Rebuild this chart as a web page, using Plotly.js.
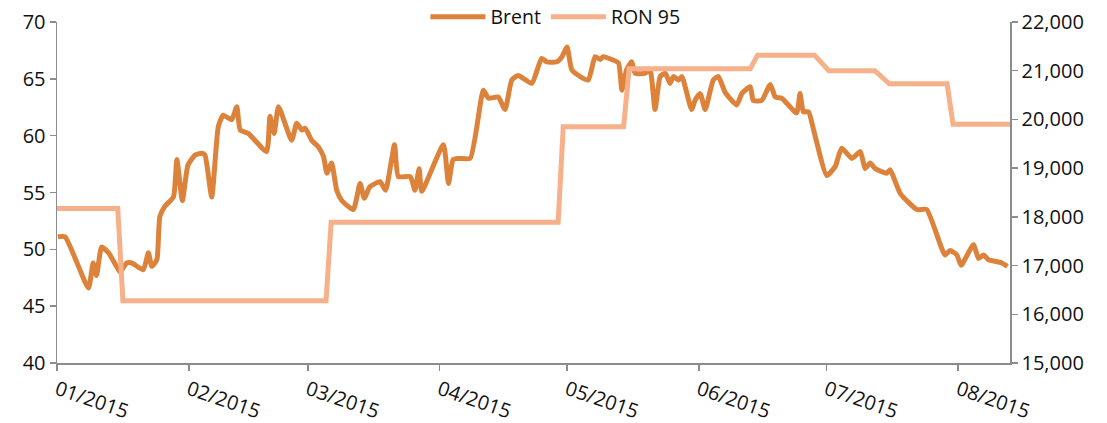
<!DOCTYPE html>
<html>
<head>
<meta charset="utf-8">
<script src="https://cdn.plot.ly/plotly-3.0.1.min.js"></script>
<style>
html, body { margin: 0; padding: 0; background: #fff; }
#chart { width: 1107px; height: 423px; }
</style>
</head>
<body>
<div id="chart"></div>
<script>
// Days counted from 2015-01-01
const brentDays = [0.2, 1.9, 7.4, 8.5, 9.3, 10.5, 12.1, 14.0, 14.8, 16.4, 17.6, 20.3, 21.5, 22.3, 23.5, 24.2, 25.4, 27.4, 28.2, 29.5, 30.8, 32.5, 34.0, 34.8, 36.4, 37.95, 39.1, 41.1, 42.3, 43.1, 45.0, 49.3, 50.1, 51.1, 52.1, 55.2, 56.4, 57.6, 58.4, 59.9, 61.5, 62.7, 63.5, 64.6, 65.8, 67.0, 69.7, 71.3, 72.3, 73.6, 76.0, 77.3, 79.4, 80.3, 83.1, 84.2, 85.2, 85.8, 90.9, 92.1, 93.2, 94.5, 97.2, 100.3, 101.5, 103.8, 105.4, 107.0, 108.5, 111.7, 114.0, 115.2, 117.6, 118.8, 120.0, 121.1, 123.1, 125.0, 126.6, 127.8, 128.5, 130.5, 132.1, 132.9, 134.0, 135.2, 136.0, 138.4, 139.5, 140.7, 141.9, 143.1, 144.2, 145.0, 146.2, 147.0, 149.3, 150.1, 151.3, 152.5, 154.4, 155.6, 157.2, 159.9, 161.1, 163.1, 163.8, 165.8, 167.8, 169.0, 170.5, 174.0, 174.8, 175.6, 176.8, 178.0, 181.1, 183.1, 184.6, 187.0, 189.0, 190.1, 191.3, 192.5, 195.2, 196.0, 198.4, 202.3, 204.6, 208.9, 210.1, 211.7, 212.7, 215.6, 216.8, 218.0, 219.1, 222.3, 223.6];
const brentValues = [51.1, 51.1, 46.6, 48.8, 47.7, 50.2, 49.7, 48.5, 48.0, 48.8, 48.8, 48.2, 49.7, 48.5, 49.1, 52.9, 53.8, 54.6, 57.9, 54.3, 57.4, 58.3, 58.45, 58.3, 54.6, 60.8, 61.8, 61.4, 62.55, 60.5, 60.2, 58.6, 61.7, 60.2, 62.55, 59.6, 61.1, 60.5, 60.65, 59.6, 59.0, 58.15, 56.7, 57.6, 55.2, 54.3, 53.5, 55.8, 54.5, 55.5, 55.95, 55.2, 59.2, 56.4, 56.4, 55.2, 57.1, 55.1, 59.2, 55.8, 57.9, 58.0, 58.0, 64.0, 63.3, 63.4, 62.3, 64.9, 65.3, 64.6, 66.8, 66.5, 66.5, 66.95, 67.8, 65.8, 65.2, 64.9, 66.95, 66.7, 66.95, 66.7, 66.4, 64.0, 65.8, 66.5, 65.5, 65.5, 65.8, 62.3, 65.2, 65.5, 64.6, 65.2, 64.9, 65.2, 62.3, 63.1, 63.7, 62.3, 64.9, 65.2, 63.8, 62.7, 63.7, 64.3, 63.1, 63.1, 64.5, 63.4, 63.3, 62.0, 63.7, 62.1, 62.1, 60.5, 56.5, 57.3, 58.9, 58.0, 58.6, 57.1, 57.6, 57.1, 56.7, 57.0, 54.9, 53.5, 53.5, 49.5, 49.9, 49.5, 48.6, 50.4, 49.2, 49.5, 49.1, 48.8, 48.5];

const ronDays = [0, 14.3, 15.5, 63.3, 64.5, 117.9, 119.1, 133.3, 134.6, 163.1, 164.8, 178.2, 181.6, 192.4, 195.8, 209.4, 210.8, 224.2];
const ronValues = [18170, 18170, 16280, 16280, 17890, 17890, 19850, 19850, 21040, 21040, 21320, 21320, 21000, 21000, 20730, 20730, 19900, 19900];

const seriesNames = ['Brent', 'RON 95'];
const xStartDay = 0;
const xEndDay = 224.2;

function dayToDate(d) {
  const t = Date.UTC(2015, 0, 1) + d * 86400000;
  return new Date(t).toISOString().slice(0, 19).replace('T', ' ');
}

const brent = {
  x: brentDays.map(dayToDate), y: brentValues, name: seriesNames[0],
  type: 'scatter', mode: 'lines', yaxis: 'y',
  line: { color: '#DC823A', width: 5, shape: 'spline', smoothing: 0.5 }
};
const ron = {
  x: ronDays.map(dayToDate), y: ronValues, name: seriesNames[1],
  type: 'scatter', mode: 'lines', yaxis: 'y2',
  line: { color: '#F6B18A', width: 5 }
};

const FONT = 'Open Sans, Noto Sans, sans-serif';
const axisCommon = {
  showgrid: false, zeroline: false, showline: true,
  linecolor: '#8c8c8c', linewidth: 1.5,
  ticks: 'outside', tickcolor: '#8c8c8c', tickwidth: 1.5,
  tickfont: { family: FONT, size: 20, color: '#111' },
  automargin: false
};

const layout = {
  width: 1107, height: 423,
  margin: { l: 57, r: 97, t: 22, b: 60, pad: 0, autoexpand: false },
  paper_bgcolor: '#fff', plot_bgcolor: '#fff',
  font: { family: FONT, size: 19, color: '#111' },
  showlegend: true,
  legend: {
    orientation: 'h', xref: 'paper', x: 0.523, xanchor: 'center',
    yref: 'container', y: 1 - 17 / 423, yanchor: 'middle',
    bgcolor: 'rgba(0,0,0,0)', font: { family: FONT, size: 19.5, color: '#111' }, itemwidth: 55
  },
  xaxis: Object.assign({}, axisCommon, {
    type: 'date',
    range: [dayToDate(xStartDay), dayToDate(xEndDay)],
    tick0: '2015-01-01', dtick: 'M1', tickformat: '%m/%Y',
    ticklen: 6, tickangle: 19
  }),
  yaxis: Object.assign({}, axisCommon, {
    range: [40, 70], dtick: 5, ticklen: 6
  }),
  yaxis2: Object.assign({}, axisCommon, {
    overlaying: 'y', side: 'right', range: [15000, 22000], dtick: 1000,
    tickformat: ',d', ticklen: 6
  })
};

Plotly.newPlot('chart', [brent, ron], layout, { displayModeBar: false, staticPlot: true });
</script>
</body>
</html>
